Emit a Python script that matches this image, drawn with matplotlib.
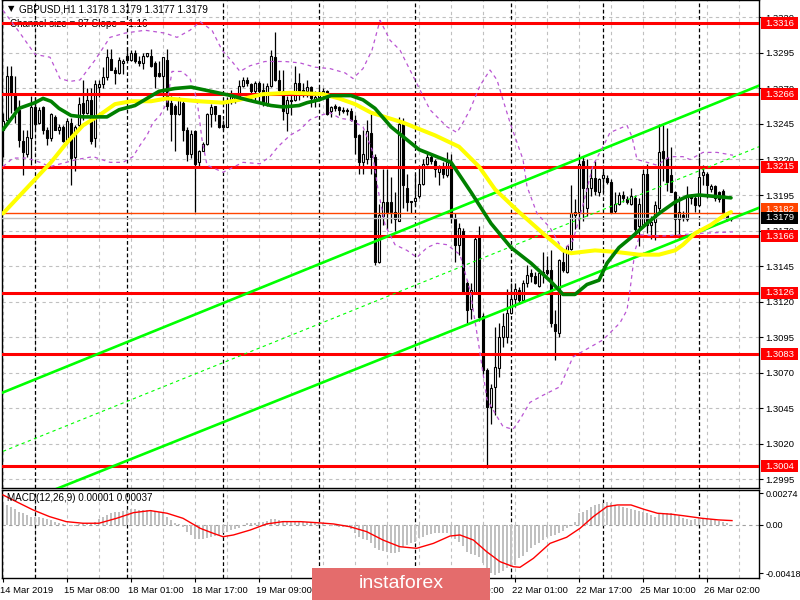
import numpy as np
import matplotlib
matplotlib.use("Agg")
import matplotlib.pyplot as plt
from matplotlib.patches import Rectangle
from matplotlib.transforms import blended_transform_factory, ScaledTranslation

plt.rcParams['font.family'] = ['Liberation Sans', 'DejaVu Sans']

# GBPUSD H1 candles
opens = [1.3241, 1.3248, 1.3279, 1.3266, 1.3255, 1.3233, 1.3224, 1.3235, 1.3257, 1.3246,
         1.3257, 1.3241, 1.3235, 1.3250, 1.3241, 1.3243, 1.3232, 1.3246, 1.3222, 1.3244,
         1.3260, 1.3253, 1.3262, 1.3235, 1.3271, 1.3273, 1.3278, 1.3291, 1.3283, 1.3281,
         1.3288, 1.3293, 1.3290, 1.3295, 1.3289, 1.3288, 1.3293, 1.3293, 1.3288, 1.3281,
         1.3279, 1.3290, 1.3260, 1.3258, 1.3252, 1.3260, 1.3241, 1.3224, 1.3240, 1.3218,
         1.3226, 1.3231, 1.3252, 1.3258, 1.3251, 1.3244, 1.3243, 1.3261, 1.3262, 1.3264,
         1.3272, 1.3276, 1.3273, 1.3268, 1.3274, 1.3269, 1.3259, 1.3272, 1.3292, 1.3276,
         1.3268, 1.3253, 1.3262, 1.3262, 1.3274, 1.3269, 1.3268, 1.3271, 1.3262, 1.3264,
         1.3266, 1.3268, 1.3254, 1.3258, 1.3257, 1.3255, 1.3255, 1.3254, 1.3248, 1.3237,
         1.3218, 1.3220, 1.3239, 1.3222, 1.3148, 1.3180, 1.3190, 1.3190, 1.3183, 1.3177,
         1.3245, 1.3200, 1.3191, 1.3191, 1.3194, 1.3203, 1.3217, 1.3222, 1.3219, 1.3211,
         1.3214, 1.3209, 1.3217, 1.3179, 1.3160, 1.3170, 1.3133, 1.3115, 1.3126, 1.3166,
         1.3110, 1.3072, 1.3046, 1.3060, 1.3073, 1.3095, 1.3095, 1.3112, 1.3122, 1.3128,
         1.3121, 1.3133, 1.3140, 1.3138, 1.3131, 1.3140, 1.3142, 1.3142, 1.3104, 1.3098,
         1.3148, 1.3141, 1.3157, 1.3181, 1.3183, 1.3219, 1.3186, 1.3200, 1.3207, 1.3197,
         1.3207, 1.3207, 1.3204, 1.3184, 1.3189, 1.3195, 1.3192, 1.3189, 1.3193, 1.3173,
         1.3174, 1.3210, 1.3174, 1.3176, 1.3186, 1.3226, 1.3221, 1.3209, 1.3197, 1.3178,
         1.3181, 1.3178, 1.3195, 1.3193, 1.3188, 1.3209, 1.3210, 1.3199, 1.3201, 1.3197,
         1.3198, 1.3181, 1.3178]
highs = [1.3253, 1.3286, 1.3286, 1.3279, 1.3262, 1.3241, 1.3241, 1.3265, 1.3264, 1.3257,
         1.3258, 1.3243, 1.3253, 1.3251, 1.3245, 1.3244, 1.3249, 1.3249, 1.3244, 1.3264,
         1.3276, 1.3270, 1.3270, 1.3276, 1.3276, 1.3285, 1.3298, 1.3298, 1.3285, 1.3292,
         1.3291, 1.3299, 1.3297, 1.3297, 1.3293, 1.3295, 1.3295, 1.3298, 1.3289, 1.3289,
         1.3292, 1.3298, 1.3265, 1.3259, 1.3264, 1.3263, 1.3243, 1.3241, 1.3241, 1.3227,
         1.3232, 1.3253, 1.3259, 1.3258, 1.3251, 1.3248, 1.3264, 1.3269, 1.3265, 1.3276,
         1.3278, 1.3278, 1.3274, 1.3275, 1.3275, 1.3274, 1.3274, 1.3297, 1.3310, 1.3283,
         1.3283, 1.3265, 1.3266, 1.3286, 1.3281, 1.3274, 1.3276, 1.3272, 1.3268, 1.3271,
         1.3270, 1.3269, 1.3258, 1.3259, 1.3258, 1.3257, 1.3256, 1.3256, 1.3251, 1.3238,
         1.3241, 1.3248, 1.3252, 1.3224, 1.3189, 1.3213, 1.3213, 1.3208, 1.3197, 1.3250,
         1.3249, 1.3210, 1.3191, 1.3210, 1.3216, 1.3220, 1.3225, 1.3224, 1.3220, 1.3216,
         1.3218, 1.3225, 1.3224, 1.3182, 1.3175, 1.3172, 1.3135, 1.3133, 1.3166, 1.3173,
         1.3112, 1.3073, 1.3062, 1.3102, 1.3105, 1.3112, 1.3129, 1.3133, 1.3133, 1.3130,
         1.3135, 1.3146, 1.3143, 1.3141, 1.3141, 1.3155, 1.3152, 1.3156, 1.3114, 1.3150,
         1.3156, 1.3160, 1.3202, 1.3192, 1.3224, 1.3222, 1.3220, 1.3214, 1.3219, 1.3207,
         1.3216, 1.3209, 1.3206, 1.3197, 1.3197, 1.3198, 1.3194, 1.3200, 1.3195, 1.3193,
         1.3213, 1.3217, 1.3180, 1.3191, 1.3245, 1.3244, 1.3242, 1.3229, 1.3198, 1.3194,
         1.3184, 1.3201, 1.3196, 1.3195, 1.3222, 1.3216, 1.3211, 1.3203, 1.3202, 1.3198,
         1.3199, 1.3183, 1.3179]
lows = [1.3222, 1.3244, 1.3253, 1.3246, 1.3229, 1.3209, 1.3222, 1.3216, 1.3241, 1.3245,
        1.3238, 1.3230, 1.3233, 1.3241, 1.3238, 1.3232, 1.3231, 1.3202, 1.3212, 1.3241,
        1.3248, 1.3252, 1.3231, 1.3229, 1.3264, 1.3270, 1.3276, 1.3283, 1.3273, 1.3280,
        1.3280, 1.3290, 1.3289, 1.3288, 1.3286, 1.3284, 1.3292, 1.3285, 1.3270, 1.3278,
        1.3264, 1.3255, 1.3233, 1.3226, 1.3251, 1.3233, 1.3219, 1.3221, 1.3183, 1.3215,
        1.3226, 1.3230, 1.3243, 1.3247, 1.3242, 1.3241, 1.3243, 1.3259, 1.3260, 1.3262,
        1.3271, 1.3272, 1.3262, 1.3262, 1.3261, 1.3258, 1.3258, 1.3271, 1.3275, 1.3268,
        1.3248, 1.3240, 1.3251, 1.3261, 1.3262, 1.3264, 1.3264, 1.3257, 1.3257, 1.3261,
        1.3263, 1.3251, 1.3250, 1.3254, 1.3251, 1.3253, 1.3251, 1.3247, 1.3224, 1.3210,
        1.3210, 1.3217, 1.3210, 1.3146, 1.3147, 1.3174, 1.3171, 1.3175, 1.3170, 1.3177,
        1.3186, 1.3184, 1.3182, 1.3188, 1.3193, 1.3202, 1.3216, 1.3217, 1.3208, 1.3202,
        1.3207, 1.3208, 1.3175, 1.3148, 1.3153, 1.3125, 1.3105, 1.3108, 1.3126, 1.3106,
        1.3069, 1.3003, 1.3034, 1.3040, 1.3067, 1.3088, 1.3091, 1.3111, 1.3116, 1.3118,
        1.3120, 1.3130, 1.3134, 1.3132, 1.3130, 1.3133, 1.3139, 1.3102, 1.3079, 1.3095,
        1.3141, 1.3140, 1.3156, 1.3171, 1.3171, 1.3177, 1.3180, 1.3194, 1.3195, 1.3194,
        1.3197, 1.3203, 1.3182, 1.3182, 1.3188, 1.3190, 1.3189, 1.3188, 1.3169, 1.3159,
        1.3173, 1.3168, 1.3164, 1.3163, 1.3184, 1.3205, 1.3198, 1.3197, 1.3166, 1.3164,
        1.3177, 1.3177, 1.3189, 1.3183, 1.3187, 1.3202, 1.3193, 1.3197, 1.3191, 1.3190,
        1.3182, 1.3177, 1.3177]
closes = [1.3247, 1.3279, 1.3266, 1.3255, 1.3234, 1.3225, 1.3236, 1.3257, 1.3245, 1.3255,
          1.3241, 1.3235, 1.3252, 1.3241, 1.3243, 1.3233, 1.3247, 1.3221, 1.3243, 1.3259,
          1.3253, 1.3262, 1.3233, 1.3273, 1.3273, 1.3278, 1.3292, 1.3283, 1.3281, 1.3290,
          1.3289, 1.3290, 1.3295, 1.3289, 1.3288, 1.3293, 1.3295, 1.3286, 1.3279, 1.3279,
          1.3292, 1.3258, 1.3252, 1.3252, 1.3262, 1.3241, 1.3224, 1.3238, 1.3217, 1.3226,
          1.3231, 1.3252, 1.3257, 1.3252, 1.3243, 1.3243, 1.3262, 1.3265, 1.3264, 1.3272,
          1.3276, 1.3274, 1.3268, 1.3274, 1.3268, 1.3259, 1.3272, 1.3293, 1.3276, 1.3269,
          1.3254, 1.3262, 1.3261, 1.3274, 1.3266, 1.3267, 1.3271, 1.3263, 1.3264, 1.3267,
          1.3268, 1.3252, 1.3257, 1.3256, 1.3255, 1.3254, 1.3254, 1.3248, 1.3236, 1.3218,
          1.3224, 1.3240, 1.3222, 1.3148, 1.3181, 1.3190, 1.3183, 1.3183, 1.3178, 1.3245,
          1.3202, 1.3190, 1.3190, 1.3193, 1.3203, 1.3217, 1.3222, 1.3219, 1.3213, 1.3214,
          1.3210, 1.3218, 1.3179, 1.3160, 1.3172, 1.3126, 1.3114, 1.3128, 1.3164, 1.3109,
          1.3072, 1.3046, 1.3059, 1.3074, 1.3095, 1.3103, 1.3112, 1.3122, 1.3129, 1.3121,
          1.3133, 1.3139, 1.3138, 1.3133, 1.3140, 1.3141, 1.3140, 1.3105, 1.3099, 1.3149,
          1.3142, 1.3159, 1.3182, 1.3183, 1.3217, 1.3200, 1.3200, 1.3207, 1.3198, 1.3206,
          1.3209, 1.3204, 1.3183, 1.3189, 1.3195, 1.3193, 1.3190, 1.3194, 1.3171, 1.3189,
          1.3210, 1.3174, 1.3176, 1.3188, 1.3225, 1.3221, 1.3204, 1.3197, 1.3178, 1.3183,
          1.3179, 1.3195, 1.3193, 1.3188, 1.3208, 1.3211, 1.3202, 1.3201, 1.3193, 1.3192,
          1.3183, 1.3178, 1.3179]

# moving averages read at bar positions
ma_yellow_bars = [0, 8, 12, 16, 20, 24, 28, 32, 37, 41, 45, 49, 55, 59, 65, 72, 80, 84, 88, 92,
                  100, 108, 114, 119, 123, 129, 135, 140, 142, 148, 153, 159, 164, 168, 170,
                  173, 177, 180, 182]
ma_yellow = [1.3182, 1.3206, 1.3218, 1.3232, 1.3244, 1.3251, 1.3259, 1.3261, 1.3261, 1.3263,
             1.3262, 1.3261, 1.3260, 1.3262, 1.3266, 1.3267, 1.3266, 1.3263, 1.3259, 1.3253,
             1.3246, 1.3237, 1.3229, 1.3215, 1.3199, 1.3183, 1.3168, 1.3156, 1.3154, 1.3156,
             1.3155, 1.3153, 1.3153, 1.3156, 1.3160, 1.3168, 1.3174, 1.3180, 1.3183]
ma_green_bars = [0, 4, 8, 10, 12, 14, 17, 20, 24, 26, 29, 33, 36, 39, 43, 47, 52, 57, 61, 67,
                 70, 74, 76, 79, 82, 87, 90, 93, 97, 104, 112, 117, 122, 127, 132, 137, 140,
                 143, 146, 149, 151, 154, 157, 161, 164, 168, 171, 174, 178, 182]
ma_green = [1.3241, 1.3256, 1.3260, 1.3263, 1.3261, 1.3256, 1.3251, 1.3250, 1.3250, 1.3250,
            1.3255, 1.3258, 1.3263, 1.3268, 1.3270, 1.3271, 1.3268, 1.3265, 1.3262, 1.3258,
            1.3257, 1.3258, 1.3260, 1.3262, 1.3265, 1.3265, 1.3262, 1.3256, 1.3243, 1.3227,
            1.3218, 1.3197, 1.3175, 1.3158, 1.3147, 1.3134, 1.3125, 1.3125, 1.3132, 1.3135,
            1.3147, 1.3158, 1.3165, 1.3175, 1.3182, 1.3190, 1.3194, 1.3195, 1.3194, 1.3193]

# bollinger-style envelopes (dashed violet)
bb_up_bars = [0, 4.25, 8, 11.75, 14.25, 16.75, 19.25, 23, 26.75, 30.5, 35.5, 40.5, 43.5, 46.75,
              49.25, 52.25, 54.75, 57.25, 59.25, 61.75, 65.5, 70.5, 74.25, 78, 81.75, 85.5,
              87.5, 90, 92.25, 94.25, 96.75, 99.25, 101.75, 104.25, 106.75, 111, 113.5, 115,
              116.75, 119.25, 121.75, 123.5, 125, 126.75, 128.5, 130, 131, 133.5, 136.75, 140,
              142.5, 145, 147.5, 150, 151.75, 156, 157.25, 158.5, 161, 163.5, 166.75, 170,
              171.75, 175, 178.5, 182.5]
bb_up = [1.3325, 1.3309, 1.3294, 1.3292, 1.3277, 1.3275, 1.3276, 1.3290, 1.3306, 1.3309,
         1.3311, 1.3309, 1.3306, 1.3311, 1.3317, 1.3311, 1.3297, 1.3289, 1.3282, 1.3286,
         1.3289, 1.3289, 1.3288, 1.3285, 1.3284, 1.3281, 1.3277, 1.3284, 1.3297, 1.3318,
         1.3304, 1.3297, 1.3283, 1.3269, 1.3255, 1.3243, 1.3239, 1.3246, 1.3255, 1.3272,
         1.3283, 1.3276, 1.3262, 1.3246, 1.3232, 1.3220, 1.3201, 1.3182, 1.3172, 1.3156,
         1.3163, 1.3188, 1.3216, 1.3229, 1.3239, 1.3244, 1.3236, 1.3220, 1.3218, 1.3216,
         1.3222, 1.3222, 1.3220, 1.3225, 1.3225, 1.3223]
bb_low_bars = [0, 2.5, 6, 9.25, 11.75, 18.5, 22.5, 26.75, 30, 32.5, 34.25, 36, 37.5, 39.25,
               41, 42.25, 44.75, 46.75, 48.5, 49.75, 51, 55, 60, 64.25, 66.75, 68.75, 71.75,
               74.25, 76.75, 79.25, 81.75, 84.25, 86.75, 90, 92.25, 93.75, 95.5, 98, 101,
               103.5, 106, 108.5, 111, 114.25, 116.75, 118.75, 121, 123.5, 125, 127.5, 129.25,
               131.75, 135, 139.25, 142.5, 150, 154.25, 156, 156.75, 158, 159.25, 164.25,
               169.25, 174.25, 182.5]
bb_low = [1.3215, 1.3221, 1.3221, 1.3218, 1.3215, 1.3220, 1.3222, 1.3218, 1.3218, 1.3222,
          1.3230, 1.3237, 1.3246, 1.3251, 1.3260, 1.3282, 1.3282, 1.3277, 1.3262, 1.3234,
          1.3216, 1.3211, 1.3218, 1.3217, 1.3222, 1.3229, 1.3237, 1.3241, 1.3248, 1.3251,
          1.3253, 1.3249, 1.3248, 1.3243, 1.3227, 1.3199, 1.3174, 1.3160, 1.3156, 1.3151,
          1.3158, 1.3161, 1.3160, 1.3153, 1.3128, 1.3093, 1.3051, 1.3039, 1.3032, 1.3030,
          1.3037, 1.3049, 1.3054, 1.3060, 1.3081, 1.3093, 1.3105, 1.3114, 1.3128, 1.3156,
          1.3167, 1.3166, 1.3167, 1.3168, 1.3169]

# regression channel anchors
channel_bars = [0, 189]
channel_upper = [1.3056, 1.3272]
channel_lower = [1.2973, 1.3186]

levels = [1.3316, 1.3266, 1.3215, 1.3166, 1.3126, 1.3083, 1.3004]
ask_line = 1.3182
bid_line = 1.3179
price_ticks = [1.2995, 1.3020, 1.3045, 1.3070, 1.3095, 1.3120, 1.3145, 1.3170, 1.3195,
               1.3220, 1.3245, 1.3270, 1.3295, 1.3320]

# MACD(12,26,9), values in 1e-4
macd_hist_e4 = [18.9, 17.4, 16.0, 13.6, 11.6, 10.2, 8.7, 7.3, 6.7, 6.7,
                5.8, 4.9, 4.4, 2.9, 2.0, 0.9, 0.0, -0.9, -0.6, 0.6,
                1.5, 2.0, 2.0, 2.9, 4.9, 6.7, 8.7, 10.2, 11.0, 11.6,
                12.5, 13.1, 13.6, 13.6, 13.1, 13.1, 13.1, 13.1, 12.5, 11.6,
                10.7, 7.3, 4.4, 1.5, 0.9, -1.5, -5.8, -8.7, -12.5, -12.5,
                -12.5, -11.6, -10.7, -9.6, -8.7, -7.3, -5.8, -4.4, -3.8, -2.9,
                0.0, 1.5, 1.5, 2.0, 2.9, 2.9, 3.8, 4.9, 4.9, 4.4,
                3.8, 2.9, 2.9, 2.9, 2.9, 2.9, 2.9, 2.0, 1.5, 1.5,
                2.0, 0.0, -0.9, -0.9, -1.5, -1.5, -2.0, -3.8, -7.3, -10.2,
                -12.5, -13.1, -16.0, -20.3, -21.8, -22.3, -23.2, -24.1, -24.7, -23.2,
                -18.9, -17.4, -16.0, -14.5, -11.6, -10.2, -8.7, -7.8, -7.3, -7.3,
                -6.7, -6.7, -8.7, -12.5, -14.5, -18.3, -23.2, -25.2, -26.1, -28.1,
                -33.4, -38.6, -41.5, -43.5, -41.5, -39.7, -37.7, -36.3, -34.8, -29.0,
                -27.0, -23.2, -20.3, -17.4, -15.4, -13.1, -10.7, -9.6, -8.7, -7.3,
                -4.9, -2.9, 0.0, 2.9, 10.2, 11.6, 13.1, 16.0, 17.4, 18.3,
                19.4, 20.3, 19.4, 17.4, 16.5, 16.0, 14.5, 13.6, 13.1, 12.5,
                11.6, 10.2, 8.7, 7.3, 10.2, 10.7, 10.7, 10.2, 8.7, 7.8,
                5.8, 4.9, 4.4, 4.9, 5.8, 5.8, 4.9, 4.9, 4.4, 3.8,
                2.9, 1.5, 0.1]
signal_bars = [0, 3.3, 7.5, 11.6, 15.8, 20, 24, 28.4, 32.6, 36.8, 41, 45, 49.3, 52.6, 55,
               57.6, 61.8, 65.9, 70, 74.3, 78.4, 82.6, 86.7, 90.9, 95, 99.2, 103.4, 107.6,
               111.75, 114.25, 117.6, 120.9, 124.25, 127.6, 129.25, 132.6, 136.75, 140.9,
               144.25, 147.6, 151, 153.6, 157, 160.25, 163.6, 167.25, 170.6, 174.75, 178.9,
               182.25]
signal_e4 = [26.1, 20.3, 13.1, 7.3, 2.9, 1.5, 1.5, 5.8, 10.7, 12.5, 10.2, 5.8, -2.9, -7.3,
             -10.2, -8.7, -4.4, 0.9, 2.9, 2.9, 2.0, 0.9, -1.5, -5.8, -13.1, -18.9, -20.3,
             -16.0, -9.6, -8.7, -13.1, -23.2, -31.9, -36.3, -36.8, -29.0, -16.0, -10.7,
             -2.9, 7.3, 16.0, 17.4, 17.4, 13.6, 10.2, 9.3, 7.8, 5.8, 4.4, 3.8]
macd_ticks = [0.00274, 0.0, -0.00418]
macd_ticklabels = ['0.00274', '0.00', '-0.00418']

date_bars = [0, 16, 32, 48, 64, 80, 96, 112, 128, 144, 160, 176]
date_labels = ['14 Mar 2019', '15 Mar 08:00', '18 Mar 01:00', '18 Mar 17:00', '19 Mar 09:00',
               '20 Mar 01:00', '20 Mar 17:00', '21 Mar 09:00', '22 Mar 01:00', '22 Mar 17:00',
               '25 Mar 10:00', '26 Mar 02:00']
day_separators = [8, 31, 55, 79, 103, 127, 150, 174]

W, H = 800, 600
FS = 6.8


def axrect(x0, y0, x1, y1):
    return [x0 / W, 1 - y1 / H, (x1 - x0) / W, (y1 - y0) / H]


fig = plt.figure(figsize=(8, 6), dpi=100)
fig.patch.set_facecolor('white')
ax = fig.add_axes(axrect(2, 0, 759, 488))
ax2 = fig.add_axes(axrect(2, 490, 759, 578))

for a in (ax, ax2):
    a.set_xlim(-0.25, 189.0)
    for b in range(0, 190, 8):
        a.axvline(b, color='#c0c0c0', lw=0.8, ls=(0, (3, 3)), zorder=0)
    for b in day_separators:
        a.axvline(b, color='black', lw=0.9, ls=(0, (3, 2)), zorder=0.5)
    for s in a.spines.values():
        s.set_linewidth(1.0)

ax.set_ylim(1.29887, 1.33323)
ax2.set_ylim(-0.00461, 0.00304)

for p in price_ticks:
    ax.axhline(p, color='#c0c0c0', lw=0.8, ls=(0, (3, 3)), zorder=0)

# channel
ax.plot(channel_bars, channel_upper, color='#00ff00', lw=1.9, zorder=6)
ax.plot(channel_bars, channel_lower, color='#00ff00', lw=1.9, zorder=6)
channel_mid = [(u + l) / 2 for u, l in zip(channel_upper, channel_lower)]
ax.plot(channel_bars, channel_mid, color='#00ff00', lw=0.8, ls=(0, (3, 3)), zorder=6)

# levels
for lv in levels:
    ax.axhline(lv, color='#ff0000', lw=2.2, zorder=5)
ax.axhline(ask_line, color='#ff4500', lw=1.0, zorder=4.5)
ax.axhline(bid_line, color='#c0c0c0', lw=1.0, zorder=4.5)

# candles
x = np.arange(len(opens))
o, h, l, c = (np.array(v) for v in (opens, highs, lows, closes))
ax.vlines(x, l, h, color='black', lw=0.9, zorder=3)
up = c >= o
body = np.maximum(np.abs(c - o), 0.00003)
ax.bar(x[up], body[up], bottom=o[up], width=0.6, color='white', edgecolor='black',
       lw=0.8, zorder=4)
ax.bar(x[~up], body[~up], bottom=c[~up], width=0.6, color='black', edgecolor='black',
       lw=0.8, zorder=4)

# indicators
ax.plot(bb_up_bars, bb_up, color='#ba55d3', lw=0.9, ls=(0, (3, 3)), zorder=6)
ax.plot(bb_low_bars, bb_low, color='#ba55d3', lw=0.9, ls=(0, (3, 3)), zorder=6)
ax.plot(ma_yellow_bars, ma_yellow, color='#ffff00', lw=2.9, zorder=7,
        solid_capstyle='round', solid_joinstyle='round')
ax.plot(ma_green_bars, ma_green, color='#008000', lw=2.6, zorder=7,
        solid_capstyle='round', solid_joinstyle='round')

# right price axis
ax.yaxis.tick_right()
ax.set_yticks(price_ticks)
ax.set_yticklabels(['%.4f' % p for p in price_ticks])
ax.tick_params(axis='y', length=3, width=0.8, pad=1.5, labelsize=FS, direction='out')
ax.set_xticks([])

blend = blended_transform_factory(ax.transAxes, ax.transData)
bh = 12 * (1.33323 - 1.29887) / 488
bx0, bw = (761 - 2) / 757, 37 / 757


def price_box(val, text, fc, tc='white'):
    ax.add_patch(Rectangle((bx0, val - bh / 2), bw, bh, transform=blend, facecolor=fc,
                           edgecolor='none', clip_on=False, zorder=10))
    ax.text(bx0 + bw / 2, val, text, transform=blend, ha='center', va='center',
            color=tc, fontsize=FS, clip_on=False, zorder=11)


for lv in levels:
    price_box(lv, '%.4f' % lv, '#ff0000')
price_box(ask_line + 0.0003, '%.4f' % ask_line, '#ff4500')
price_box(bid_line, '%.4f' % bid_line, 'black')

# header texts (under the objects)
ax.text(8 / W, 1 - 9 / H, '\u25bc', transform=fig.transFigure, fontsize=6,
        family='DejaVu Sans', va='center', zorder=1)
ax.text(19 / W, 1 - 9 / H, 'GBPUSD,H1 1.3178 1.3179 1.3177 1.3179', transform=fig.transFigure,
        fontsize=7.1, va='center', zorder=1)
ax.text(10 / W, 1 - 24 / H, 'Channel size = 87 Slope = 1.16', transform=fig.transFigure,
        fontsize=7.1, va='center', zorder=1)

# MACD panel
ax2.axhline(0, color='#a0a0a0', lw=0.8, ls=(0, (3, 3)), zorder=1)
ax2.bar(x, np.array(macd_hist_e4) * 1e-4, width=0.5, color='#c0c0c0', zorder=2)
ax2.plot(signal_bars, np.array(signal_e4) * 1e-4, color='#ff0000', lw=1.0, zorder=3)
ax2.yaxis.tick_right()
ax2.set_yticks(macd_ticks)
ax2.set_yticklabels(macd_ticklabels)
ax2.tick_params(axis='y', length=3, width=0.8, pad=1.5, labelsize=6.5, direction='out')
ax2.set_xticks(date_bars)
ax2.set_xticklabels(date_labels, ha='left')
ax2.tick_params(axis='x', length=3, width=0.8, pad=3, labelsize=FS, direction='out')
for lbl in ax2.get_xticklabels():
    lbl.set_transform(lbl.get_transform() + ScaledTranslation(-2 / 72, 0, fig.dpi_scale_trans))
ax2.text(7 / W, 1 - 498 / H, 'MACD(12,26,9) 0.00001 0.00037', transform=fig.transFigure,
         fontsize=7.1, va='center', zorder=5)

# watermark
fig.patches.append(Rectangle((312 / W, 0), 178 / W, 32 / H, transform=fig.transFigure,
                             facecolor='#e46c6c', edgecolor='none', zorder=10))
fig.text(401 / W, 1 - 583 / H, 'instaforex', color='white', fontsize=14, ha='center',
         va='center', zorder=11)

fig.savefig('out.png', dpi=100, facecolor='white')
